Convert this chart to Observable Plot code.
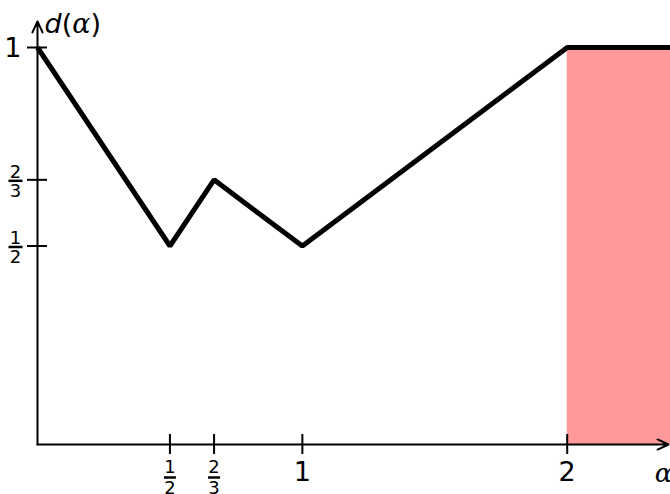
<!DOCTYPE html>
<html>
<head>
<meta charset="utf-8">
<script src="https://cdn.jsdelivr.net/npm/d3@7"></script>
<script src="https://cdn.jsdelivr.net/npm/@observablehq/plot@0.6"></script>
<style>
  html, body { margin: 0; padding: 0; background: #fff; }
  svg { display: block; }
</style>
</head>
<body>
<div id="chart"></div>
<script>
// ---- data ----
const alphaValues = [0, 1/2, 2/3, 1, 2, 2.39];
const dValues     = [1, 1/2, 2/3, 1/2, 1, 1];
const shadeFrom = 2;
const shadeTo = 2.39;
const xTickValues = [1/2, 2/3, 1, 2];
const xTickLabels = ["1/2", "2/3", "1", "2"];
const yTickValues = [1/2, 2/3, 1];
const yTickLabels = ["1/2", "2/3", "1"];
const xMax = 2.39;

// ---- layout ----
const W = 670, H = 494;
const mL = 37, mR = 0, mT = 47, mB = 50;
const yPerPx = 1 / (H - mT - mB);
const xPerPx = xMax / (W - mL - mR);

const points = alphaValues.map((a, i) => ({a, d: dValues[i]}));
const split = (labels, values) => values.map((v, i) => {
  const [num, den] = labels[i].split("/");
  return {v, num, den};
});
const xT = split(xTickLabels, xTickValues);
const yT = split(yTickLabels, yTickValues);
const xFrac = xT.filter(t => t.den), xWhole = xT.filter(t => !t.den);
const yFrac = yT.filter(t => t.den), yWhole = yT.filter(t => !t.den);

const hbar = {draw(ctx, size) { const r = Math.sqrt(size / Math.PI); ctx.moveTo(-r, 0); ctx.lineTo(r, 0); }};

const font = "DejaVu Sans";

const plot = Plot.plot({
  width: W, height: H,
  marginLeft: mL, marginRight: mR, marginTop: mT, marginBottom: mB,
  x: {domain: [0, xMax], axis: null},
  y: {domain: [0, 1], axis: null},
  style: {fontFamily: font, background: "white"},
  marks: [
    Plot.rect([{x1: shadeFrom, x2: shadeTo, y1: 0, y2: 1}], {x1: "x1", x2: "x2", y1: "y1", y2: "y2", fill: "#ff9999"}),
    // axes
    Plot.arrow([{x1: 0, y1: 0, x2: (W - 2 - mL) * xPerPx, y2: 0}], {x1: "x1", y1: "y1", x2: "x2", y2: "y2", stroke: "black", strokeWidth: 2, headLength: 9, headAngle: 50}),
    Plot.arrow([{x1: 0, y1: 0, x2: 0, y2: 1 + 26 * yPerPx}], {x1: "x1", y1: "y1", x2: "x2", y2: "y2", stroke: "black", strokeWidth: 2, headLength: 9, headAngle: 50}),
    // ticks
    Plot.ruleX(xTickValues, {x: d => d, y1: -10 * yPerPx, y2: 10 * yPerPx, stroke: "black", strokeWidth: 2}),
    Plot.ruleY(yTickValues, {y: d => d, x1: -10 * xPerPx, x2: 10 * xPerPx, stroke: "black", strokeWidth: 2}),
    // x tick labels
    Plot.text(xWhole, {x: "v", y: 0, text: "num", dy: 28, fontSize: 27, fill: "black"}),
    Plot.text(xFrac, {x: "v", y: 0, text: "num", dy: 23, fontSize: 18, fill: "black"}),
    Plot.dot(xFrac, {x: "v", y: 0, symbol: hbar, r: 6, dy: 33, stroke: "black", strokeWidth: 2.5}),
    Plot.text(xFrac, {x: "v", y: 0, text: "den", dy: 44, fontSize: 18, fill: "black"}),
    // y tick labels
    Plot.text(yWhole, {x: 0, y: "v", text: "num", dx: -16, dy: 1, textAnchor: "end", fontSize: 27, fill: "black"}),
    Plot.text(yFrac, {x: 0, y: "v", text: "num", dx: -22, dy: -8, fontSize: 18, fill: "black"}),
    Plot.dot(yFrac, {x: 0, y: "v", symbol: hbar, r: 7, dx: -22, dy: 1, stroke: "black", strokeWidth: 2.5}),
    Plot.text(yFrac, {x: 0, y: "v", text: "den", dx: -22, dy: 11, fontSize: 18, fill: "black"}),
    // curve
    Plot.line(points, {x: "a", y: "d", stroke: "black", strokeWidth: 5, strokeLinejoin: "miter", strokeLinecap: "butt"}),
    // axis labels
    Plot.text(["d(α)"], {x: 0, y: 1, text: d => d, dx: 7, dy: -23, textAnchor: "start", fontSize: 27, fill: "black", className: "ylab"}),
    Plot.text(["α"], {x: xMax, y: 0, text: d => d, dx: -7, dy: 29, fontSize: 26, fontStyle: "italic", fontFamily: "DejaVu Serif", fill: "black"})
  ]
});
document.getElementById("chart").appendChild(plot);

// style the y label: italic d, upright parens, italic serif alpha
d3.select(plot).selectAll(".ylab text").each(function() {
  const t = d3.select(this);
  t.text(null);
  t.append("tspan").attr("font-style", "italic").text("d");
  t.append("tspan").text("(");
  t.append("tspan").attr("font-style", "italic").attr("font-family", "DejaVu Serif").text("α");
  t.append("tspan").text(")");
});
</script>
</body>
</html>
